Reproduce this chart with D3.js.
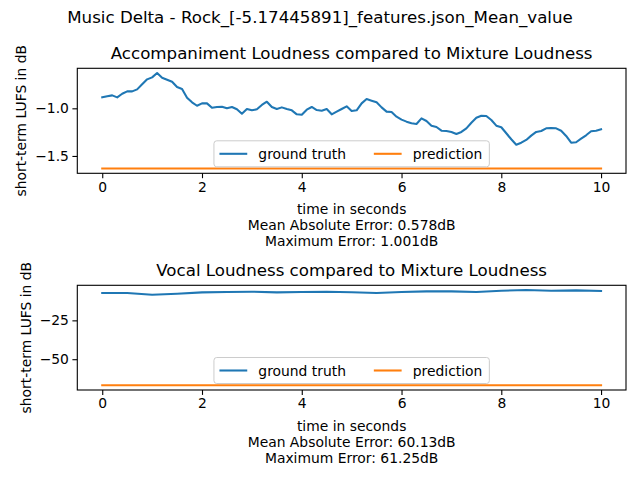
<!DOCTYPE html>
<html>
<head>
<meta charset="utf-8">
<script src="https://cdn.jsdelivr.net/npm/d3@7"></script>
<style>
  body { margin: 0; background: #fff; }
  text { font-family: "DejaVu Sans", sans-serif; fill: #000; }
</style>
</head>
<body>
<svg id="chart" width="640" height="480"></svg>
<script>
// --- data ---
const suptitle = 'Music Delta - Rock_[-5.17445891]_features.json_Mean_value';

const accTime = [
  0.0, 0.1, 0.2, 0.3, 0.4, 0.5, 0.6, 0.7, 0.8, 0.9,
  1.0, 1.1, 1.2, 1.3, 1.4, 1.5, 1.6, 1.7, 1.8, 1.9,
  2.0, 2.1, 2.2, 2.3, 2.4, 2.5, 2.6, 2.7, 2.8, 2.9,
  3.0, 3.1, 3.2, 3.3, 3.4, 3.5, 3.6, 3.7, 3.8, 3.9,
  4.0, 4.1, 4.2, 4.3, 4.4, 4.5, 4.6, 4.7, 4.8, 4.9,
  5.0, 5.1, 5.2, 5.3, 5.4, 5.5, 5.6, 5.7, 5.8, 5.9,
  6.0, 6.1, 6.2, 6.3, 6.4, 6.5, 6.6, 6.7, 6.8, 6.9,
  7.0, 7.1, 7.2, 7.3, 7.4, 7.5, 7.6, 7.7, 7.8, 7.9,
  8.0, 8.1, 8.2, 8.3, 8.4, 8.5, 8.6, 8.7, 8.8, 8.9,
  9.0, 9.1, 9.2, 9.3, 9.4, 9.5, 9.6, 9.7, 9.8, 9.9,
  10.0
];
const accTruth = [
  -0.885, -0.874, -0.864, -0.885, -0.847, -0.822, -0.822, -0.801, -0.748, -0.696,
  -0.675, -0.630, -0.679, -0.700, -0.721, -0.777, -0.798, -0.889, -0.937, -0.973,
  -0.948, -0.948, -0.994, -0.986, -0.983, -1.000, -0.986, -1.010, -1.057, -1.007,
  -1.021, -1.010, -0.965, -0.931, -0.986, -1.007, -0.990, -1.007, -1.021, -1.063,
  -1.067, -1.014, -0.986, -1.018, -1.025, -1.007, -1.063, -1.035, -1.007, -0.979,
  -1.028, -1.021, -0.948, -0.903, -0.920, -0.937, -0.990, -1.035, -1.039, -1.088,
  -1.119, -1.140, -1.157, -1.165, -1.105, -1.133, -1.182, -1.196, -1.235, -1.238,
  -1.248, -1.269, -1.248, -1.210, -1.151, -1.099, -1.078, -1.081, -1.123, -1.182,
  -1.199, -1.262, -1.325, -1.382, -1.361, -1.332, -1.287, -1.248, -1.238, -1.210,
  -1.206, -1.210, -1.235, -1.290, -1.361, -1.356, -1.319, -1.283, -1.241, -1.235,
  -1.220
];
const accPredTime = [0, 10];
const accPred = [-1.632, -1.632];

const vocTime = [0, 0.5, 1, 1.5, 2, 2.5, 3, 3.5, 4, 4.5, 5, 5.5, 6, 6.5, 7, 7.5, 8, 8.5, 9, 9.5, 10];
const vocTruth = [
  -7.43, -7.43, -8.50, -7.86, -7.00, -6.79, -6.57, -7.00, -6.79, -6.57,
  -6.90, -7.43, -6.79, -6.36, -6.36, -6.79, -5.93, -5.50, -5.93, -5.71, -6.14
];
const vocPredTime = [0, 10];
const vocPred = [-66.75, -66.75];

const xTicks = [0, 2, 4, 6, 8, 10];
const accYTicks = [-1.5, -1.0];
const vocYTicks = [-50, -25];

const titles = ['Accompaniment Loudness compared to Mixture Loudness',
                'Vocal Loudness compared to Mixture Loudness'];
const accLabel = ['time in seconds', 'Mean Absolute Error: 0.578dB', 'Maximum Error: 1.001dB'];
const vocLabel = ['time in seconds', 'Mean Absolute Error: 60.13dB', 'Maximum Error: 61.25dB'];
const legendNames = ['ground truth', 'prediction'];
const colors = ['#1f77b4', '#ff7f0e'];

const svg = d3.select('#chart');

svg.append('text')
  .attr('x', 320).attr('y', 22.5)
  .attr('text-anchor', 'middle')
  .style('font-size', '16.67px')
  .text(suptitle);

function drawPanel(top, bottom, truthT, truthV, predT, predV, yTicks, yFmt, title, xlabel) {
  const left = 77.3, right = 626;
  const x = d3.scaleLinear().domain([-0.5, 10.5]).range([left, right]);
  const ext = d3.extent(truthV.concat(predV));
  const pad = (ext[1] - ext[0]) * 0.05;
  const y = d3.scaleLinear().domain([ext[0] - pad, ext[1] + pad]).range([bottom, top]);

  const g = svg.append('g');

  // x axis
  const xa = g.append('g')
    .attr('transform', 'translate(0,' + bottom + ')')
    .call(d3.axisBottom(x).tickValues(xTicks).tickFormat(d3.format('d')).tickSize(4.9).tickPadding(3.5));
  xa.select('.domain').remove();
  xa.selectAll('line').attr('stroke-width', 1.1);
  xa.selectAll('text').style('font-size', '13.89px').attr('font-family', null);

  // y axis
  const ya = g.append('g')
    .attr('transform', 'translate(' + left + ',0)')
    .call(d3.axisLeft(y).tickValues(yTicks).tickFormat(d3.format(yFmt)).tickSize(4.9).tickPadding(3.5));
  ya.select('.domain').remove();
  ya.selectAll('line').attr('stroke-width', 1.1);
  ya.selectAll('text').style('font-size', '13.89px').attr('font-family', null);

  const line = d3.line().x(d => x(d[0])).y(d => y(d[1]));

  g.append('path')
    .datum(d3.zip(truthT, truthV))
    .attr('fill', 'none')
    .attr('stroke', colors[0])
    .attr('stroke-width', 2.08)
    .attr('stroke-linejoin', 'round')
    .attr('stroke-linecap', 'square')
    .attr('d', line);

  g.append('path')
    .datum(d3.zip(predT, predV))
    .attr('fill', 'none')
    .attr('stroke', colors[1])
    .attr('stroke-width', 2.08)
    .attr('stroke-linecap', 'square')
    .attr('d', line);

  // legend, lower center, 2 columns
  const lh = 26;
  const lg = g.append('g');
  const box = lg.append('rect')
    .attr('y', bottom - 6.5 - lh).attr('height', lh)
    .attr('rx', 2.8)
    .attr('fill', '#fff').attr('fill-opacity', 0.8)
    .attr('stroke', '#cccccc').attr('stroke-width', 1);
  const rowY = bottom - 6.5 - lh / 2;
  let cx = 5.5;
  const items = [];
  legendNames.forEach((name, i) => {
    const item = lg.append('g');
    item.append('line')
      .attr('x1', cx).attr('x2', cx + 27.8)
      .attr('y1', rowY).attr('y2', rowY)
      .attr('stroke', colors[i]).attr('stroke-width', 2.08);
    const t = item.append('text')
      .attr('x', cx + 27.8 + 11.1).attr('y', rowY + 5)
      .style('font-size', '13.89px')
      .text(name);
    cx = cx + 27.8 + 11.1 + t.node().getComputedTextLength() + 27.8;
  });
  const lw = cx - 27.8 + 7;
  const lx = (left + right) / 2 - lw / 2;
  box.attr('x', 0).attr('width', lw);
  lg.attr('transform', 'translate(' + lx + ',0)');

  // frame
  g.append('rect')
    .attr('x', left).attr('y', top)
    .attr('width', right - left).attr('height', bottom - top)
    .attr('fill', 'none').attr('stroke', '#000').attr('stroke-width', 1.1);

  // title
  g.append('text')
    .attr('x', (left + right) / 2).attr('y', top - 9.3)
    .attr('text-anchor', 'middle')
    .style('font-size', '16.67px')
    .text(title);

  // x label (three lines)
  g.append('g').selectAll('text')
    .data(xlabel)
    .join('text')
    .attr('x', (left + right) / 2)
    .attr('y', (d, i) => bottom + 41 + i * 15.8)
    .attr('text-anchor', 'middle')
    .style('font-size', '13.89px')
    .text(d => d);

  // y label
  let minX = left;
  ya.selectAll('text').each(function () {
    const b = this.getBBox();
    const ctm = this.parentNode.transform.baseVal.consolidate();
    minX = Math.min(minX, left + b.x);
  });
  const yl = minX - 5.6 - 3.3;
  g.append('text')
    .attr('transform', 'translate(' + yl + ',' + (top + bottom) / 2 + ') rotate(-90)')
    .attr('text-anchor', 'middle')
    .style('font-size', '13.89px')
    .text('short-term LUFS in dB');
}

drawPanel(68.3, 173.3, accTime, accTruth, accPredTime, accPred, accYTicks, '.1f', titles[0], accLabel);
drawPanel(285.3, 390, vocTime, vocTruth, vocPredTime, vocPred, vocYTicks, 'd', titles[1], vocLabel);
</script>
</body>
</html>
